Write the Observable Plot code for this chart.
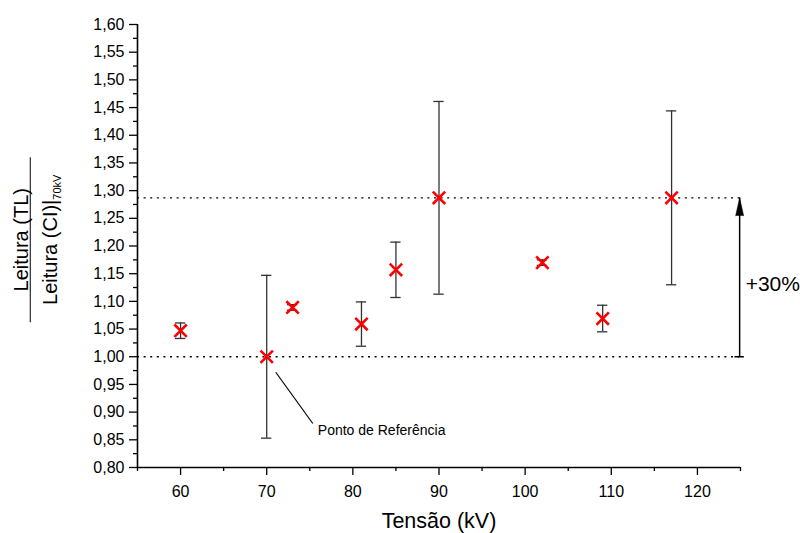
<!DOCTYPE html>
<html>
<head>
<meta charset="utf-8">
<script src="https://cdn.jsdelivr.net/npm/d3@7"></script>
<script src="https://cdn.jsdelivr.net/npm/@observablehq/plot@0.6"></script>
<style>
  html, body { margin: 0; padding: 0; background: #fff; }
  #wrap { position: relative; width: 800px; height: 533px; font-family: "Liberation Sans", Arial, sans-serif; }
  #ylab { position: absolute; left: 30px; top: 239.5px; width: 0; height: 0; }
  #ylab .frac { position: absolute; width: 165px; left: -82.5px; top: -18.75px;
    transform-origin: 82.5px 18.75px; transform: rotate(-90deg); color: #000; font-size: 20px; }
  #ylab .num { height: 18px; line-height: 18px; border-bottom: 1.5px solid #000; text-align: center; white-space: nowrap; }
  #ylab .den { padding-top: 8px; line-height: 22px; text-align: center; white-space: nowrap; }
  #ylab sub { font-size: 11px; vertical-align: -4px; }
</style>
</head>
<body>
<div id="wrap">
  <div id="chart"></div>
  <div id="ylab"><div class="frac"><div class="num">Leitura (TL)</div><div class="den">Leitura (CI)|<sub>70kV</sub></div></div></div>
</div>
<script>
// Data
const voltages = [60, 70, 73, 81, 85, 90, 102, 109, 117];
const ratios   = [1.047, 1.000, 1.089, 1.059, 1.157, 1.287, 1.170, 1.069, 1.287];
const errors   = [0.014, 0.147, 0.005, 0.040, 0.050, 0.174, 0.005, 0.024, 0.157];

const xTicks = [60, 70, 80, 90, 100, 110, 120];
const xMinorTicks = [55, 65, 75, 85, 95, 105, 115, 125];
const yTicks = [0.80, 0.85, 0.90, 0.95, 1.00, 1.05, 1.10, 1.15, 1.20, 1.25, 1.30, 1.35, 1.40, 1.45, 1.50, 1.55, 1.60];
const yMinorTicks = [0.825, 0.875, 0.925, 0.975, 1.025, 1.075, 1.125, 1.175, 1.225, 1.275, 1.325, 1.375, 1.425, 1.475, 1.525, 1.575];

const refLevel = 1.00;      // reference (70 kV)
const maxLevel = 1.287;     // +30% level
const arrowX = 124.9;
const refLabel = "Ponto de Referência";
const refLeader = [{x: 71.05, y: 0.972, x2: 75.35, y2: 0.8795}];
const pctLabel = "+30%";
const xLabel = "Tensão (kV)";

const data = voltages.map((v, i) => ({x: v, y: ratios[i], e: errors[i]}));
const fmt = d => d.toFixed(2).replace(".", ",");
const capHalf = 0.6;

const chart = Plot.plot({
  width: 800,
  height: 533,
  marginLeft: 137,
  marginRight: 60,
  marginTop: 24,
  marginBottom: 66,
  style: {fontFamily: "Liberation Sans, Arial, sans-serif", color: "#000", background: "#fff"},
  x: {domain: [55, 125], axis: null},
  y: {domain: [0.8, 1.6], axis: null},
  marks: [
    // axes
    Plot.axisY(yTicks, {anchor: "left", tickSize: 8, tickPadding: 5, tickFormat: fmt, fontSize: 16, strokeWidth: 1.3}),
    Plot.axisY(yMinorTicks, {anchor: "left", tickSize: 4, tickFormat: () => "", strokeWidth: 1.3}),
    Plot.axisX(xTicks, {anchor: "bottom", tickSize: 8, tickPadding: 10, fontSize: 16, strokeWidth: 1.3}),
    Plot.axisX(xMinorTicks, {anchor: "bottom", tickSize: 4, tickFormat: () => "", strokeWidth: 1.3}),
    Plot.ruleX([55], {y1: 0.8, y2: 1.6, strokeWidth: 1.6}),
    Plot.ruleY([0.8], {x1: 55, x2: 125, strokeWidth: 1.6}),
    Plot.text([xLabel], {frameAnchor: "bottom", dy: 54, fontSize: 21.5, lineAnchor: "middle"}),
    // dotted reference lines
    Plot.ruleY([refLevel, maxLevel], {x1: 55, x2: arrowX, stroke: "#000", strokeWidth: 1.3, strokeDasharray: "2,4.6"}),
    // +30% arrow
    Plot.ruleX([arrowX], {y1: refLevel, y2: maxLevel, y: null, strokeWidth: 1.5}),
    Plot.ruleY([refLevel], {x1: arrowX - 0.55, x2: arrowX + 0.55, strokeWidth: 1.5}),
    Plot.vector([{x: arrowX, y: maxLevel}], {x: "x", y: "y", length: 18, r: 4, shape: "spike", anchor: "end", fill: "#000", stroke: "#000", strokeWidth: 0.5}),
    Plot.text([pctLabel], {x: arrowX, y: (refLevel + maxLevel) / 2, dx: 6, dy: 7, textAnchor: "start", fontSize: 21}),
    // error bars
    Plot.ruleX(data, {x: "x", y1: d => d.y - d.e, y2: d => d.y + d.e, stroke: "#333", strokeWidth: 1.3}),
    Plot.ruleY(data, {y: d => d.y + d.e, x1: d => d.x - capHalf, x2: d => d.x + capHalf, stroke: "#333", strokeWidth: 1.3}),
    Plot.ruleY(data, {y: d => d.y - d.e, x1: d => d.x - capHalf, x2: d => d.x + capHalf, stroke: "#333", strokeWidth: 1.3}),
    // markers
    Plot.dot(data, {x: "x", y: "y", symbol: "times", r: 5.7, stroke: "#ff0000", strokeWidth: 2.6}),
    // annotation
    Plot.link(refLeader, {x1: "x", y1: "y", x2: "x2", y2: "y2", stroke: "#000", strokeWidth: 1.2}),
    Plot.text([refLabel], {x: refLeader[0].x2, y: refLeader[0].y2, dx: 5, dy: 7, textAnchor: "start", fontSize: 14})
  ]
});
document.getElementById("chart").appendChild(chart);
</script>
</body>
</html>
